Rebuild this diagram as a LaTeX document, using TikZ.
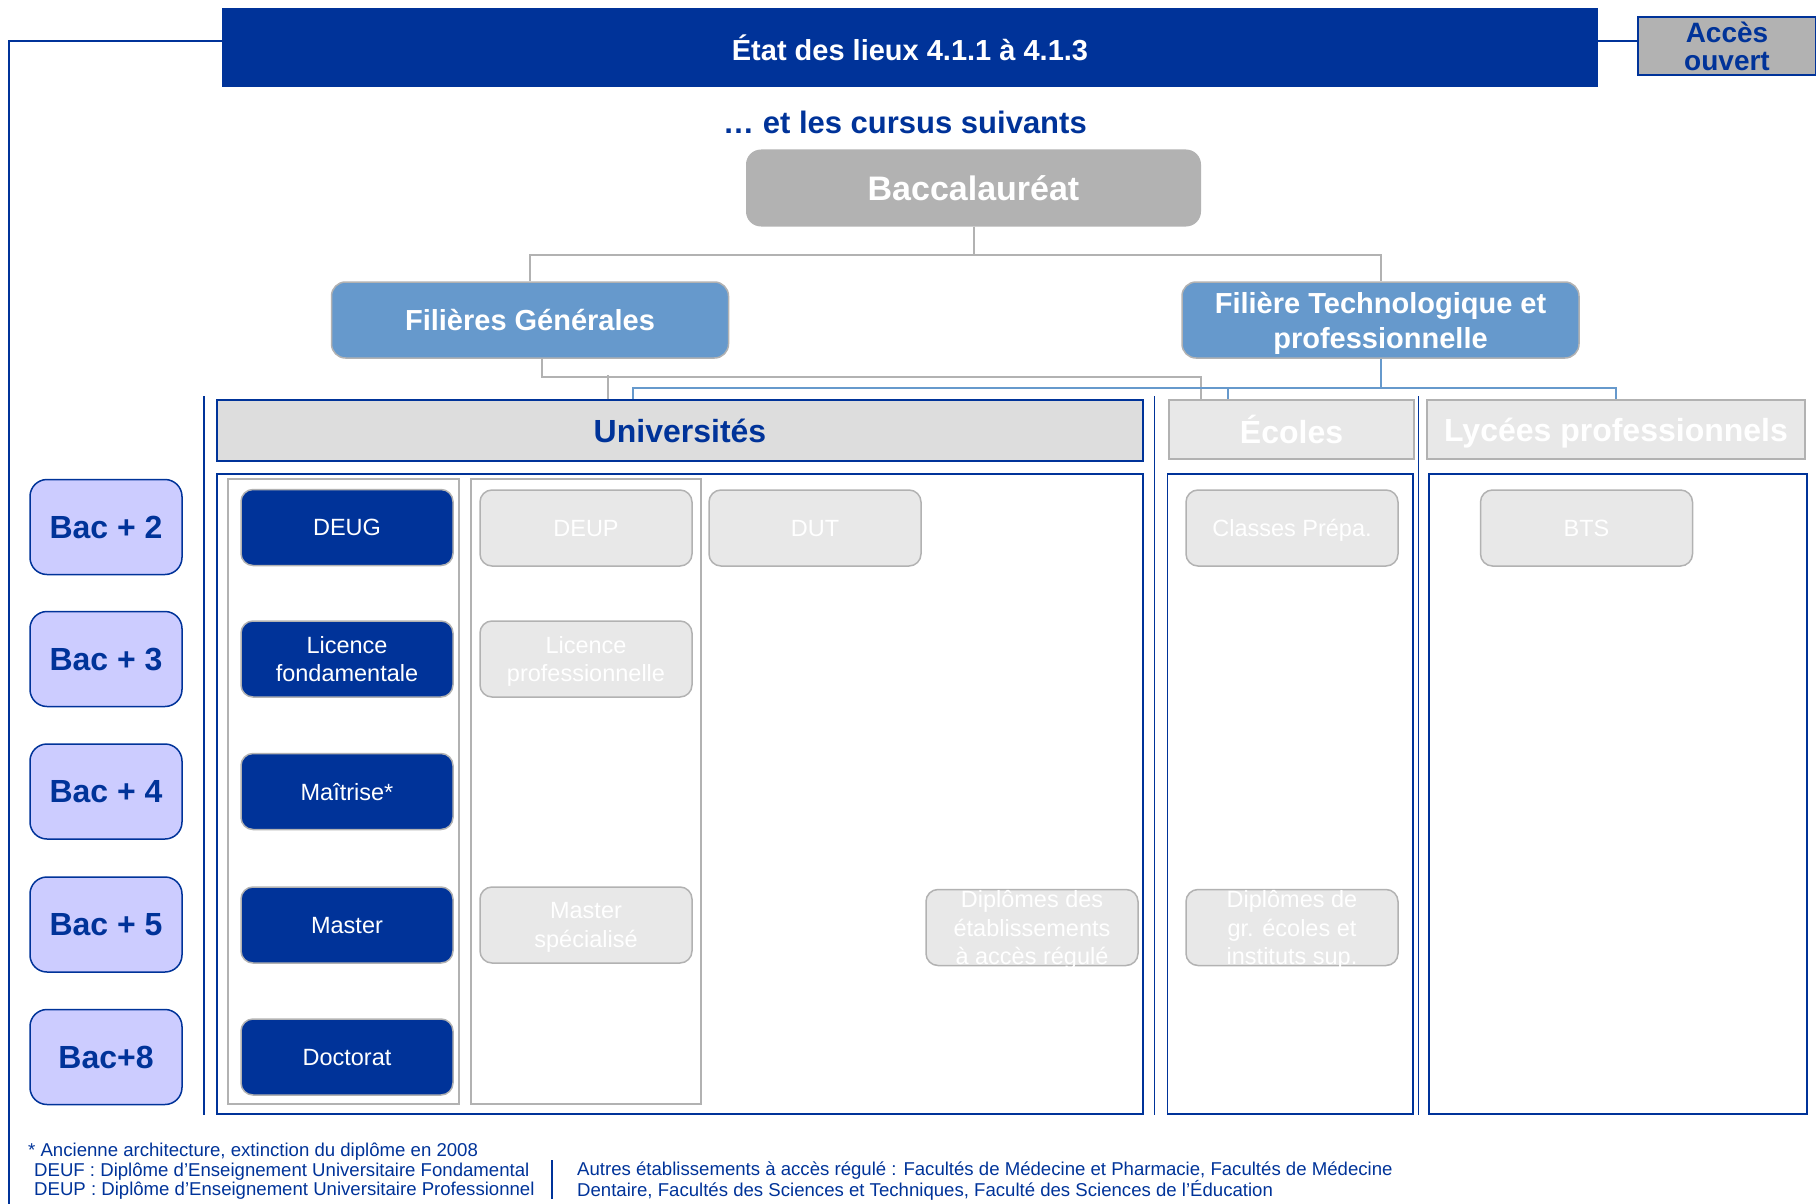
\documentclass[tikz,border=0pt]{standalone}
\usepackage{fontspec}
\setmainfont{Liberation Sans}
\usepackage{tikz}
\definecolor{dblue}{HTML}{003399}
\definecolor{lblue}{HTML}{6699CC}
\definecolor{lilac}{HTML}{CCCCFF}
\definecolor{mgray}{HTML}{B2B2B2}
\definecolor{lgray}{HTML}{E8E8E8}
\definecolor{hgray}{HTML}{DDDDDD}
\newcommand{\fs}[2]{\fontsize{#1}{#2}\selectfont}

\begin{document}
\begin{tikzpicture}[x=1pt,y=-1pt,
    box/.style={rectangle,inner sep=0pt,align=center,text depth=0pt},
    bacbox/.style={box,draw=dblue,line width=1.5pt,fill=lilac,rounded corners=17pt,
      minimum width=152pt,minimum height=95pt,text=dblue,font=\fs{32}{38}\bfseries},
    degree/.style={box,draw=mgray,line width=1.5pt,fill=dblue,rounded corners=12pt,
      minimum width=212pt,minimum height=76pt,text=white,font=\fs{23.5}{28.5}},
    dimdeg/.style={degree,fill=lgray},
    colhead/.style={box,draw=mgray,line width=1.5pt,fill=lgray,minimum width=#1,
      minimum height=59pt,text=white,font=\fs{32}{38}\bfseries},
    filiere/.style={box,draw=mgray,line width=1.5pt,fill=lblue,rounded corners=14pt,
      minimum width=397pt,minimum height=76pt,text=white,font=\fs{29}{35}\bfseries},
    grayline/.style={mgray,line width=2pt},
    blueline/.style={lblue,line width=2pt},
    panel/.style={dblue,line width=1.5pt},
    colframe/.style={mgray,line width=1.5pt},
    legend/.style={anchor=west,inner sep=0pt,align=left,text=dblue,font=\fs{18.6}{19}}]
  \useasboundingbox (0,0) rectangle (1816,1204);

  % title and subtitle
  \node[box,fill=dblue,minimum width=1376pt,minimum height=79pt,text=white,
    font=\fs{29}{34}\bfseries] (etat) at (910,47.5) {État des lieux 4.1.1 à 4.1.3};
  \node[box,draw=dblue,line width=1.5pt,fill=mgray,minimum width=178pt,minimum height=58pt,
    text=dblue,font=\fs{28}{27.5}\bfseries] (acces) at (1727,46) {Accès\\ouvert};
  \draw[panel] ([yshift=6.5pt]etat.west) -| (9,1204);
  \draw[panel] ([yshift=6.5pt]etat.east) -- ([yshift=5pt]acces.west);
  \node[text=dblue,font=\fs{31}{36}\bfseries] (sous) at (905,122) {… et les cursus suivants};

  % tree
  \node[box,fill=mgray,rounded corners=15pt,minimum width=455pt,minimum height=77pt,
    text=white,font=\fs{34}{40}\bfseries] (bac) at (973.5,188) {Baccalauréat};
  \node[filiere] (fg) at (530,320) {Filières Générales};
  \node[filiere] (ft) at (1380.5,320) {Filière Technologique et\\professionnelle};

  \node[colhead=926pt,draw=dblue,fill=hgray,text=dblue,minimum height=61pt] (univ) at (680,430.5) {Universités};
  \node[colhead=245pt] (ecoles) at (1291.5,429.5) {Écoles};
  \node[colhead=378pt] (lycees) at (1616,429.5) {Lycées professionnels};

  \draw[grayline] (bac.south) -- ++(0,28) -| (fg.north);
  \draw[grayline] (bac.south) -- ++(0,28) -| (ft.north);
  \draw[grayline] ([xshift=12pt]fg.south) -- ++(0,18) -| ([xshift=-90.5pt]ecoles.north);
  \draw[grayline] ([xshift=-72pt]univ.north) -- ++(0,-24);
  \draw[blueline] (ft.south) -- ++(0,29) -| ([xshift=-47pt]univ.north);
  \draw[blueline] (ft.south) -- ++(0,29) -| ([xshift=-63.5pt]ecoles.north);
  \draw[blueline] (ft.south) -- ++(0,29) -| (lycees.north);

  % panels
  \draw[panel] (217,474) rectangle (1143,1114);
  \draw[panel] (1167.5,474) rectangle (1413,1114);
  \draw[panel] (1429,474) rectangle (1807,1114);
  \draw[colframe] (228,479) rectangle (459,1104);
  \draw[colframe] (471,479) rectangle (701,1104);
  \draw[panel] (204,396) -- (204,1115);
  \draw[panel] (1154.5,396) -- (1154.5,1115);
  \draw[panel] (1418.5,396) -- (1418.5,1115);

  % levels and diplomas
  \foreach \y/\t [count=\i] in {527/Bac + 2,659/Bac + 3,791.5/Bac + 4,924.5/Bac + 5,1057/Bac+8}
    \node[bacbox] (niv\i) at (106,\y) {\t};
  \foreach \y/\t [count=\i] in {527.5/DEUG,659/{Licence\\fondamentale},791.5/Maîtrise*,925/Master,1057/Doctorat}
    \node[degree] (uni\i) at (347,\y) {\t};

  \node[dimdeg] (deup) at (586,528) {DEUP};
  \node[dimdeg] (lpro) at (586,659) {Licence\\professionnelle};
  \node[dimdeg] (mspe) at (586,925) {Master\\spécialisé};
  \node[dimdeg] (dut) at (815,528) {DUT};
  \node[dimdeg] (dear) at (1032,927.5) {Diplômes des\\établissements\\à accès régulé};
  \node[dimdeg] (prepa) at (1292,528) {Classes Prépa.};
  \node[dimdeg] (grec) at (1292,927.5) {Diplômes de\\gr. écoles et\\instituts sup.};
  \node[dimdeg] (bts) at (1586.5,528) {BTS};

  % footnotes
  \node[legend] (ast) at (28,1152) {* Ancienne architecture, extinction du diplôme en 2008};
  \node[legend] (sigles) at (34,1181) {DEUF : Diplôme d’Enseignement Universitaire Fondamental\\DEUP : Diplôme d’Enseignement Universitaire Professionnel};
  \draw[panel] (552,1160) -- (552,1199);
  \node[legend] (autres) at (577,1181) {Autres établissements à accès régulé : Facultés de Médecine et Pharmacie, Facultés de Médecine\\Dentaire, Facultés des Sciences et Techniques, Faculté des Sciences de l'Éducation};
\end{tikzpicture}
\end{document}
